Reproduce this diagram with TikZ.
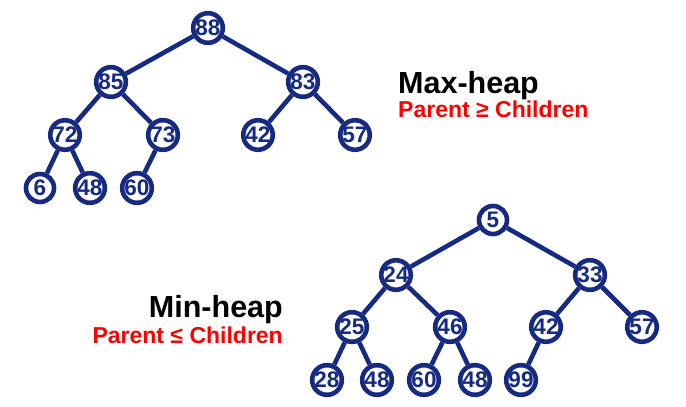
\documentclass[tikz,border=0pt]{standalone}
\usepackage{fontspec}
\setmainfont{Liberation Sans}
\definecolor{navy}{RGB}{22,42,130}
\definecolor{redtxt}{RGB}{255,0,0}
\begin{document}
\begin{tikzpicture}[x=1pt,y=-1pt,
  hn/.style={circle,draw=navy,line width=4.6pt,fill=white,minimum size=28pt,inner sep=0pt,
    font=\fontsize{22.5}{22.5}\selectfont\bfseries,text=navy},
  he/.style={draw=navy,line width=4.6pt},
  title/.style={font=\fontsize{30.5}{30.5}\selectfont\bfseries,text=black,inner sep=0pt},
  rule/.style={font=\fontsize{23}{23}\selectfont\bfseries,text=redtxt,inner sep=0pt}]
\useasboundingbox (0,0) rectangle (686,407);
% Max-heap
\node[hn] (a88) at (208,28) {88};
\node[hn] (a85) at (111,82) {85};
\node[hn] (a83) at (303,82) {83};
\node[hn] (a72) at (65,135) {72};
\node[hn] (a73) at (163,135) {73};
\node[hn] (a42) at (258,135) {42};
\node[hn] (a57) at (355,135) {57};
\node[hn] (a6) at (40,188) {6};
\node[hn] (a48) at (90,188) {48};
\node[hn] (a60) at (137,188) {60};
\draw[he] (a88) -- (a85);
\draw[he] (a88) -- (a83);
\draw[he] (a85) -- (a72);
\draw[he] (a85) -- (a73);
\draw[he] (a83) -- (a42);
\draw[he] (a83) -- (a57);
\draw[he] (a72) -- (a6);
\draw[he] (a72) -- (a48);
\draw[he] (a73) -- (a60);
% Min-heap
\node[hn] (b5) at (493,220) {5};
\node[hn] (b24) at (396,275) {24};
\node[hn] (b33) at (590,275) {33};
\node[hn] (b25) at (352,327) {25};
\node[hn] (b46) at (450,327) {46};
\node[hn] (b42) at (546,327) {42};
\node[hn] (b57) at (642,327) {57};
\node[hn] (b28) at (327,380) {28};
\node[hn] (b48a) at (377,380) {48};
\node[hn] (b60) at (424,380) {60};
\node[hn] (b48b) at (475,380) {48};
\node[hn] (b99) at (521,380) {99};
\draw[he] (b5) -- (b24);
\draw[he] (b5) -- (b33);
\draw[he] (b24) -- (b25);
\draw[he] (b24) -- (b46);
\draw[he] (b33) -- (b42);
\draw[he] (b33) -- (b57);
\draw[he] (b25) -- (b28);
\draw[he] (b25) -- (b48a);
\draw[he] (b46) -- (b60);
\draw[he] (b46) -- (b48b);
\draw[he] (b42) -- (b99);
% Labels
\node[title,anchor=base west] (maxt) at (398,93) {Max-heap};
\node[rule,anchor=base west] (maxr) at (398,117) {Parent ≥ Children};
\node[title,anchor=base east] (mint) at (283,317) {Min-heap};
\node[rule,anchor=base east] (minr) at (283,343) {Parent ≤ Children};
\end{tikzpicture}
\end{document}
